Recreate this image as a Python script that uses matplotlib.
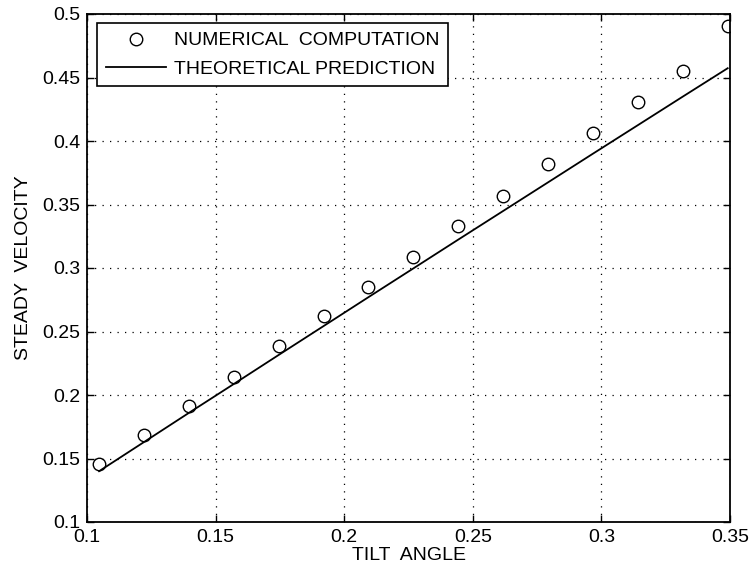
import numpy as np
import matplotlib
matplotlib.use("Agg")
import matplotlib.pyplot as plt

plt.rcParams['font.family'] = ['Liberation Sans', 'DejaVu Sans']

# tilt angles (radians, 6..20 degrees)
tilt_angle = [0.1047, 0.1222, 0.1396, 0.1571, 0.1745, 0.1920, 0.2094, 0.2269,
              0.2443, 0.2618, 0.2793, 0.2967, 0.3142, 0.3316, 0.3491]
numerical_velocity = [0.146, 0.1685, 0.191, 0.2142, 0.2386, 0.262, 0.285, 0.309,
                      0.333, 0.357, 0.382, 0.406, 0.4305, 0.455, 0.4905]
theoretical_velocity = [0.1400, 0.1630, 0.1859, 0.2087, 0.2315, 0.2543, 0.2770, 0.2997,
                        0.3223, 0.3449, 0.3675, 0.3900, 0.4125, 0.4349, 0.4573]
x_ticks = [0.1, 0.15, 0.2, 0.25, 0.3, 0.35]
x_tick_labels = ['0.1', '0.15', '0.2', '0.25', '0.3', '0.35']
y_ticks = [0.1, 0.15, 0.2, 0.25, 0.3, 0.35, 0.4, 0.45, 0.5]
y_tick_labels = ['0.1', '0.15', '0.2', '0.25', '0.3', '0.35', '0.4', '0.45', '0.5']

fig = plt.figure(figsize=(7.51, 5.73), dpi=100)
ax = fig.add_axes([87/751, 51/573, 643/751, 508/573])

ax.plot(tilt_angle, numerical_velocity, linestyle='none', marker='o', markersize=9,
        markerfacecolor='none', markeredgecolor='black', markeredgewidth=1.0,
        label='NUMERICAL  COMPUTATION')
ax.plot(tilt_angle, theoretical_velocity, color='black', linewidth=1.3,
        label='THEORETICAL PREDICTION')

ax.set_xlim(0.1, 0.35)
ax.set_ylim(0.1, 0.5)
ax.set_xticks(x_ticks)
ax.set_xticklabels(x_tick_labels)
ax.set_yticks(y_ticks)
ax.set_yticklabels(y_tick_labels)
ax.tick_params(direction='in', top=True, right=True, length=5, width=1,
               labelsize=14)
ax.tick_params(axis='y', pad=5)
ax.tick_params(axis='x', pad=5)
ax.grid(True, linestyle=(0, (1, 5)), color='black', linewidth=0.9)
for s in ax.spines.values():
    s.set_linewidth(1.3)

ax.set_xlabel('TILT  ANGLE', fontsize=14, labelpad=1)
ax.set_ylabel('STEADY  VELOCITY', fontsize=14, labelpad=7)

leg = ax.legend(loc='upper left', bbox_to_anchor=(10/643, 1 - 9/508), fontsize=14,
                frameon=True, fancybox=False, edgecolor='black', framealpha=1,
                handlelength=3.1, handletextpad=0.4, borderpad=0.45,
                labelspacing=0.55, borderaxespad=0)
leg.get_frame().set_linewidth(1.2)

fig.savefig('out.png', dpi=100)
